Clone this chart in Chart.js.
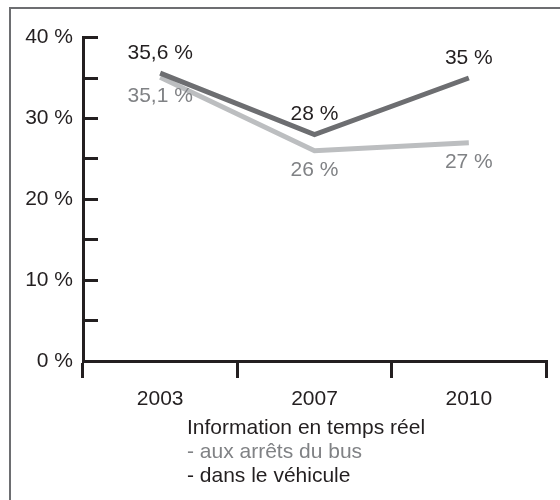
<!DOCTYPE html>
<html>
<head>
<meta charset="utf-8">
<script src="https://cdn.jsdelivr.net/npm/chart.js@4.4.1/dist/chart.umd.min.js"></script>
<style>
  html, body { margin: 0; padding: 0; background: #ffffff; }
  #wrap { position: relative; width: 560px; height: 500px; }
  canvas { display: block; }
</style>
</head>
<body>
<div id="wrap"><canvas id="c" width="560" height="500"></canvas></div>
<script>
// ---- data ----
const years = ['2003', '2007', '2010'];
const dansVehicule = [35.6, 28, 35];
const auxArrets = [35.1, 26, 27];
const legendTitle = 'Information en temps réel';
const labelArrets = '- aux arrêts du bus';
const labelVehicule = '- dans le véhicule';
const yTickValues = [0, 10, 20, 30, 40];

const FONT = '"Liberation Sans", Arial, Helvetica, sans-serif';
const INK = '#231f20';
const DARK = '#6d6e71';
const LIGHT = '#bcbec0';
const GRAYTXT = '#808285';

function fmt(v) { return String(v).replace('.', ',') + ' %'; }

const frame = {
  id: 'frame',
  beforeDraw(chart) {
    const ctx = chart.ctx;
    ctx.save();
    ctx.strokeStyle = '#6d6e71';
    ctx.lineWidth = 2;
    ctx.beginPath();
    ctx.moveTo(10, 500);
    ctx.lineTo(10, 8);
    ctx.lineTo(560, 8);
    ctx.stroke();
    ctx.restore();
  }
};

const valueLabels = {
  id: 'valueLabels',
  afterDatasetsDraw(chart) {
    const ctx = chart.ctx;
    ctx.save();
    ctx.font = '21px ' + FONT;
    ctx.textAlign = 'center';
    ctx.textBaseline = 'middle';
    chart.data.datasets.forEach((ds, i) => {
      const meta = chart.getDatasetMeta(i);
      meta.data.forEach((pt, j) => {
        ctx.fillStyle = ds.labelColor;
        ctx.fillText(fmt(ds.data[j]), pt.x, pt.y + ds.labelOffset);
      });
    });
    ctx.restore();
  }
};

const textLegend = {
  id: 'textLegend',
  afterDraw(chart) {
    const ctx = chart.ctx;
    const x = 187;
    const y0 = chart.chartArea.bottom + 67;
    ctx.save();
    ctx.font = '21px ' + FONT;
    ctx.textAlign = 'left';
    ctx.textBaseline = 'middle';
    ctx.fillStyle = INK;
    ctx.fillText(legendTitle, x, y0);
    ctx.fillStyle = GRAYTXT;
    ctx.fillText(labelArrets, x, y0 + 24);
    ctx.fillStyle = INK;
    ctx.fillText(labelVehicule, x, y0 + 48);
    ctx.restore();
  }
};

new Chart(document.getElementById('c'), {
  type: 'line',
  data: {
    labels: years,
    datasets: [
      {
        label: labelVehicule,
        data: dansVehicule,
        borderColor: DARK,
        borderWidth: 5,
        pointRadius: 0,
        tension: 0,
        borderJoinStyle: 'miter',
        labelColor: INK,
        labelOffset: -20
      },
      {
        label: labelArrets,
        data: auxArrets,
        borderColor: LIGHT,
        borderWidth: 5,
        pointRadius: 0,
        tension: 0,
        borderJoinStyle: 'miter',
        labelColor: GRAYTXT,
        labelOffset: 19
      }
    ]
  },
  options: {
    responsive: false,
    animation: false,
    layout: { padding: { left: 10, top: 33, right: 14, bottom: 0 } },
    plugins: {
      legend: { display: false },
      tooltip: { enabled: false },
      title: { display: false }
    },
    scales: {
      x: {
        type: 'category',
        offset: true,
        grid: {
          offset: true,
          drawOnChartArea: false,
          drawTicks: true,
          tickLength: 17,
          lineWidth: 3,
          color: INK
        },
        border: { display: true, color: INK, width: 3 },
        ticks: {
          color: INK,
          font: { family: FONT, size: 21 },
          padding: 9,
          maxRotation: 0
        },
        afterFit(s) { s.height = 139; }
      },
      y: {
        min: 0,
        max: 40,
        grid: {
          drawOnChartArea: false,
          drawTicks: true,
          tickLength: -15,
          lineWidth: 3,
          color: INK
        },
        border: { display: true, color: INK, width: 3 },
        ticks: {
          stepSize: 5,
          color: INK,
          padding: 25,
          font: { family: FONT, size: 21 },
          callback: (v) => yTickValues.includes(v) ? v + ' %' : ''
        },
        afterFit(s) { s.width = 73; }
      }
    }
  },
  plugins: [frame, valueLabels, textLegend]
});
</script>
</body>
</html>
